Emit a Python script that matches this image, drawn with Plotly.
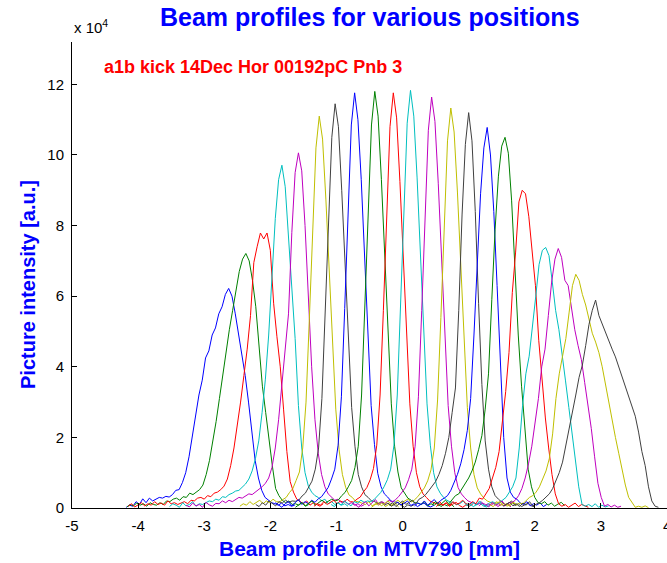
import numpy as np
import plotly.graph_objects as go

# Sampling pitch of the profiles along the screen [mm]
STEP = 0.05

# First sample position [mm] of each profile, in scan order
starts = [-4.18, -4.17, -4.15, -3.525, -3.275, -2.46, -2.22, -1.925, -1.62, -1.34, -1.08,
          -0.76, -0.47, -0.20, 0.18, 0.45, 0.51, 0.965, 1.155, 1.32, 1.52]

# Intensity profiles [x 10^4 a.u.], one list per position
prof_01 = [0.02, 0.08, 0.05, 0.18, 0.10, 0.26, 0.15, 0.28, 0.20, 0.24, 0.30, 0.28, 0.33, 0.31,
           0.38, 0.50, 0.52, 0.72, 1.00, 1.45, 2.00, 2.55, 3.20, 3.62, 4.25, 4.45, 4.90, 5.10,
           5.50, 5.70, 6.05, 6.22, 6.00, 5.50, 4.90, 4.35, 3.75, 3.00, 2.10, 1.35, 0.85, 0.50,
           0.30, 0.22, 0.15, 0.12, 0.08, 0.14, 0.06, 0.10, 0.05, 0.08]
prof_02 = [0.03, 0.10, 0.06, 0.14, 0.08, 0.12, 0.05, 0.15, 0.10,
           0.08, 0.15, 0.10, 0.20, 0.18, 0.25, 0.28, 0.22, 0.32, 0.30, 0.42, 0.38, 0.45, 0.52,
           0.65, 0.95, 1.35, 1.85, 2.45, 3.10, 3.80, 4.45, 5.05, 5.60, 6.15, 6.70, 7.05, 7.21,
           7.00, 6.45, 5.70, 4.60, 3.45, 2.70, 1.90, 1.20, 0.55, 0.35, 0.22, 0.15, 0.20, 0.10,
           0.12, 0.08, 0.15, 0.05, 0.10]
prof_03 = [0.05, 0.12, 0.03, 0.10, 0.15, 0.06, 0.12, 0.08, 0.18, 0.10, 0.14, 0.08, 0.20, 0.12,
           0.15, 0.10, 0.15, 0.18, 0.12, 0.22, 0.20, 0.28, 0.30, 0.25, 0.35, 0.32, 0.42, 0.45,
           0.52, 0.62, 0.82, 1.20, 1.70, 2.30, 3.00, 3.75, 4.50, 5.45, 6.95, 7.40, 7.79, 7.62,
           7.79, 7.30, 5.80, 4.85, 4.00, 2.80, 1.60, 0.75, 0.45, 0.25, 0.18, 0.12, 0.20, 0.08,
           0.15, 0.10, 0.05, 0.12]
prof_04 = [0.04, 0.12, 0.08, 0.02, 0.15, 0.06, 0.10, 0.18, 0.05, 0.12,
           0.10, 0.15, 0.20, 0.18, 0.25, 0.22, 0.32, 0.30, 0.38, 0.42, 0.48, 0.50, 0.58, 0.68,
           0.82, 1.05, 1.40, 1.90, 2.70, 3.65, 4.90, 6.40, 8.20, 9.30, 9.71, 9.10, 7.70, 6.50,
           4.80, 2.90, 1.70, 1.00, 0.62, 0.45, 0.35, 0.30, 0.20, 0.25, 0.12, 0.18, 0.10, 0.15,
           0.08, 0.12, 0.05]
prof_05 = [0.08, 0.03, 0.14, 0.06, 0.10, 0.02, 0.16, 0.09, 0.05, 0.13,
           0.12, 0.20, 0.15, 0.22, 0.18, 0.25, 0.30, 0.28, 0.35, 0.40, 0.38, 0.45, 0.52, 0.60,
           0.70, 0.85, 1.15, 1.70, 2.50, 3.55, 4.50, 5.50, 7.80, 9.50, 10.06, 9.55, 8.00, 5.90,
           4.00, 2.50, 1.55, 0.95, 0.60, 0.40, 0.30, 0.22, 0.25, 0.15, 0.20, 0.10, 0.15, 0.08,
           0.12, 0.05, 0.10]
prof_06 = [0.05, 0.12, 0.08, 0.18, 0.10, 0.15, 0.22, 0.12, 0.20, 0.15, 0.25, 0.18,
           0.17, 0.24, 0.30, 0.44, 0.55, 0.78, 1.02, 1.70, 3.00, 5.35, 8.00, 10.20, 11.10,
           10.45, 8.75, 6.70, 4.50, 2.80, 1.65, 0.95, 0.58, 0.37, 0.30, 0.19, 0.17,
           0.14, 0.10, 0.18, 0.06, 0.12, 0.08, 0.15, 0.04, 0.10, 0.06, 0.12, 0.03]
prof_07 = [0.10, 0.04, 0.15, 0.08, 0.20, 0.12, 0.06, 0.18, 0.14, 0.22, 0.16, 0.20,
           0.19, 0.22, 0.34, 0.42, 0.60, 0.76, 1.10, 1.70, 3.10, 5.50, 8.25, 10.50, 11.45,
           10.80, 9.00, 6.90, 4.70, 2.85, 1.75, 0.95, 0.60, 0.38, 0.30, 0.20, 0.18,
           0.12, 0.18, 0.08, 0.14, 0.05, 0.11, 0.16, 0.07, 0.02, 0.09, 0.05, 0.10]
prof_08 = [0.15, 0.08, 0.02, 0.12, 0.18, 0.06, 0.14, 0.24, 0.10, 0.18, 0.12, 0.22,
           0.16, 0.26, 0.32, 0.47, 0.58, 0.82, 1.10, 1.78, 3.15, 5.65, 8.45, 10.85, 11.76,
           11.00, 9.30, 7.05, 4.85, 2.90, 1.80, 0.98, 0.60, 0.40, 0.31, 0.20, 0.17,
           0.16, 0.09, 0.13, 0.20, 0.07, 0.12, 0.04, 0.10, 0.14, 0.06, 0.03, 0.08]
prof_09 = [0.02, 0.10, 0.16, 0.06, 0.12, 0.20, 0.08, 0.15, 0.22, 0.14, 0.19, 0.25,
           0.20, 0.23, 0.35, 0.44, 0.60, 0.78, 1.15, 1.75, 3.20, 5.65, 8.50, 10.85, 11.80,
           11.10, 9.30, 7.10, 4.80, 2.95, 1.75, 1.02, 0.57, 0.42, 0.28, 0.22, 0.15,
           0.14, 0.10, 0.18, 0.06, 0.12, 0.08, 0.15, 0.04, 0.10, 0.06, 0.12, 0.03]
prof_10 = [0.05, 0.12, 0.08, 0.18, 0.10, 0.15, 0.22, 0.12, 0.20, 0.15, 0.25, 0.18,
           0.17, 0.25, 0.31, 0.46, 0.58, 0.80, 1.12, 1.78, 3.20, 5.60, 8.45, 10.80, 11.76,
           11.05, 9.25, 7.05, 4.85, 2.95, 1.75, 1.00, 0.60, 0.40, 0.30, 0.20, 0.16,
           0.12, 0.18, 0.08, 0.14, 0.05, 0.11, 0.16, 0.07, 0.02, 0.09, 0.05, 0.10]
prof_11 = [0.10, 0.04, 0.15, 0.08, 0.20, 0.12, 0.06, 0.18, 0.14, 0.22, 0.16, 0.20,
           0.18, 0.24, 0.34, 0.44, 0.60, 0.80, 1.10, 1.78, 3.20, 5.70, 8.50, 10.90, 11.83,
           11.10, 9.35, 7.10, 4.85, 2.95, 1.78, 1.00, 0.60, 0.42, 0.30, 0.22, 0.17,
           0.16, 0.09, 0.13, 0.20, 0.07, 0.12, 0.04, 0.10, 0.14, 0.06, 0.03, 0.08]
prof_12 = [0.15, 0.08, 0.02, 0.12, 0.18, 0.06, 0.14, 0.24, 0.10, 0.18, 0.12, 0.22,
           0.17, 0.23, 0.32, 0.45, 0.57, 0.80, 1.10, 1.75, 3.15, 5.60, 8.40, 10.70, 11.64,
           10.95, 9.20, 7.00, 4.75, 2.90, 1.75, 1.00, 0.58, 0.40, 0.29, 0.20, 0.16,
           0.14, 0.10, 0.18, 0.06, 0.12, 0.08, 0.15, 0.04, 0.10, 0.06, 0.12, 0.03]
prof_13 = [0.02, 0.10, 0.16, 0.06, 0.12, 0.20, 0.08, 0.15, 0.22, 0.14, 0.19, 0.25,
           0.17, 0.23, 0.32, 0.43, 0.57, 0.77, 1.08, 1.70, 3.06, 5.40, 8.20, 10.40, 11.33,
           10.65, 8.95, 6.80, 4.65, 2.85, 1.70, 0.95, 0.57, 0.40, 0.28, 0.20, 0.16,
           0.12, 0.18, 0.07, 0.14, 0.05, 0.11, 0.16, 0.08]
prof_14 = [0.08, 0.15, 0.04, 0.12, 0.20, 0.10, 0.16, 0.22, 0.12, 0.25,
           0.30, 0.38, 0.50, 0.62, 0.75, 0.95, 1.20, 1.55, 2.00, 2.70, 3.40, 5.60, 8.30, 10.30,
           11.20, 10.40, 8.40, 5.80, 3.50, 1.90, 1.10, 0.60, 0.35, 0.25,
           0.16, 0.09, 0.13, 0.20, 0.07, 0.12, 0.04, 0.10, 0.14, 0.06, 0.03]
prof_15 = [0.06, 0.14, 0.10, 0.20, 0.08, 0.16, 0.24, 0.12, 0.22, 0.28,
           0.35, 0.50, 0.70, 0.95, 1.25, 1.65, 2.20, 3.10, 4.90, 7.10, 8.90, 10.20, 10.78,
           10.00, 8.40, 6.30, 3.90, 2.00, 0.85, 0.45, 0.30, 0.25,
           0.14, 0.10, 0.18, 0.06, 0.12, 0.08, 0.15, 0.04, 0.10]
prof_16 = [0.10, 0.18, 0.06, 0.15, 0.22, 0.12, 0.25,
           0.35, 0.40, 0.55, 0.70, 0.85, 1.05, 1.30, 1.65, 2.05, 2.80, 3.80, 5.90, 7.90, 9.40,
           10.25, 10.50, 10.05, 8.70, 6.80, 4.90, 3.45, 2.20, 1.10, 0.60, 0.30, 0.15,
           0.12, 0.18, 0.08, 0.14, 0.05, 0.11, 0.16, 0.07]
prof_17 = [0.04, 0.12, 0.08, 0.15, 0.06, 0.18, 0.10, 0.14, 0.22, 0.12,
           0.10, 0.18, 0.12, 0.28, 0.25, 0.40, 0.55, 0.85, 1.15, 1.60, 2.40, 3.30, 4.40, 6.10,
           7.25, 8.67, 9.00, 8.90, 8.25, 7.30, 6.30, 4.75, 3.55, 2.55, 1.70, 0.95, 0.40, 0.12,
           0.05, 0.10, 0.02,
           0.08, 0.14, 0.04, 0.10, 0.06, 0.02]
prof_18 = [0.12, 0.05, 0.16, 0.08, 0.20, 0.10, 0.06, 0.14, 0.18, 0.10,
           0.15, 0.22, 0.30, 0.45, 0.60, 0.85, 1.70, 2.90, 3.80, 4.30, 5.25, 6.00, 6.90, 7.30,
           7.38, 7.15, 6.40, 5.60, 5.05, 4.40, 3.60, 2.85, 2.05, 1.40, 0.60, 0.10, 0.05, 0.10,
           0.04, 0.12, 0.02, 0.08, 0.03, 0.06]
prof_19 = [0.06, 0.14, 0.10, 0.03, 0.16, 0.08, 0.12, 0.20, 0.07, 0.15,
           0.15, 0.22, 0.35, 0.55, 0.85, 1.25, 1.75, 2.40, 3.10, 4.00, 4.50, 5.45, 6.40, 7.05,
           7.35, 7.10, 6.45, 6.30, 5.65, 5.05, 4.60, 4.20, 3.55, 2.90, 2.25, 1.45, 0.70, 0.30,
           0.05, 0.10, 0.03, 0.08, 0.02, 0.05]
prof_20 = [0.10, 0.04, 0.13, 0.18, 0.07, 0.12, 0.05, 0.16, 0.09, 0.14,
           0.12, 0.20, 0.30, 0.35, 0.45, 0.60, 0.80, 1.05, 1.40, 2.10, 3.10, 3.80, 4.30, 4.80,
           5.55, 6.30, 6.62, 6.45, 6.05, 5.75, 5.35, 4.95, 4.70, 4.40, 4.00, 3.50, 2.90, 2.45,
           2.00, 1.55, 1.05, 0.65, 0.30, 0.15, 0.02, 0.05, 0.02, 0.06, 0.01]
prof_21 = [0.05, 0.10, 0.16, 0.06, 0.12, 0.04, 0.14, 0.08, 0.18, 0.06,
           0.10, 0.15, 0.22, 0.30, 0.40, 0.55, 0.75, 1.00, 1.30, 1.75, 2.25, 2.70, 3.20, 3.70,
           4.05, 4.60, 5.20, 5.60, 5.89, 5.45, 5.20, 4.95, 4.75, 4.50, 4.28, 4.00, 3.75, 3.45,
           3.15, 2.85, 2.60, 2.15, 1.60, 1.20, 0.60, 0.20, 0.05, 0.02]

profiles = [prof_01, prof_02, prof_03, prof_04, prof_05, prof_06, prof_07, prof_08, prof_09,
            prof_10, prof_11, prof_12, prof_13, prof_14, prof_15, prof_16, prof_17, prof_18,
            prof_19, prof_20, prof_21]

# Classic line colour order (b, g, r, c, m, y, k)
color_order = ["rgb(0,0,255)", "rgb(0,128,0)", "rgb(255,0,0)", "rgb(0,191,191)",
               "rgb(191,0,191)", "rgb(191,191,0)", "rgb(64,64,64)"]

x_ticks = [-5, -4, -3, -2, -1, 0, 1, 2, 3]
x_tick_text = ["-5", "-4", "-3", "-2", "-1", "0", "1", "2", "3"]
y_ticks = [0, 2, 4, 6, 8, 10, 12]
y_tick_text = ["0", "2", "4", "6", "8", "10", "12"]

FONT = "Liberation Sans, Arial, Helvetica, sans-serif"
BLUE = "rgb(0,0,255)"

fig = go.Figure()
for i, (x0, vals) in enumerate(zip(starts, profiles)):
    xs = x0 + STEP * np.arange(len(vals))
    fig.add_trace(go.Scatter(
        x=xs, y=vals, mode="lines",
        line=dict(color=color_order[i % len(color_order)], width=1),
        showlegend=False, hoverinfo="skip",
    ))

W, H = 667, 563
L, R, T, B = 72, 0, 42, 55
PW, PH = W - L - R, H - T - B

fig.update_layout(
    width=W, height=H,
    margin=dict(l=L, r=R, t=T, b=B, pad=0),
    paper_bgcolor="white", plot_bgcolor="white",
    font=dict(family=FONT, size=14, color="black"),
    xaxis=dict(
        range=[-5, 4], tickvals=x_ticks, ticktext=x_tick_text,
        ticks="inside", ticklen=5, tickcolor="black",
        showline=True, linecolor="black", linewidth=1, mirror=False,
        showgrid=False, zeroline=False, tickfont=dict(size=15, family=FONT),
        ticklabelstandoff=4,
    ),
    yaxis=dict(
        range=[0, 13.2], tickvals=y_ticks, ticktext=y_tick_text,
        ticks="inside", ticklen=5, tickcolor="black",
        showline=True, linecolor="black", linewidth=1, mirror=False,
        showgrid=False, zeroline=False, tickfont=dict(size=15, family=FONT),
        ticklabelstandoff=4,
    ),
    annotations=[
        dict(text="<b>Beam profiles for various positions</b>", xref="paper", yref="paper",
             x=0.5, y=1 + (T - 17) / PH, xanchor="center", yanchor="middle",
             showarrow=False, font=dict(size=25, color=BLUE, family=FONT)),
        dict(text="<b>a1b kick 14Dec Hor 00192pC Pnb 3</b>", xref="x", yref="y",
             x=-4.55, y=12.5, xanchor="left", yanchor="middle", showarrow=False,
             font=dict(size=18, color="red", family=FONT)),
        dict(text="x 10<sup>4</sup>", xref="paper", yref="paper",
             x=0.0, y=1 + (T - 27) / PH, xanchor="left", yanchor="middle",
             showarrow=False, font=dict(size=15, color="black", family=FONT)),
        # last x tick label sits on the right edge of the figure
        dict(text="4", xref="x", yref="paper", x=4, y=-(525 - (H - B)) / PH,
             xanchor="center", yanchor="middle", showarrow=False,
             font=dict(size=15, color="black", family=FONT)),
        dict(text="<b>Beam profile on MTV790 [mm]</b>", xref="paper", yref="paper",
             x=0.5, y=-(548 - (H - B)) / PH, xanchor="center", yanchor="middle",
             showarrow=False, font=dict(size=21, color=BLUE, family=FONT)),
        dict(text="<b>Picture intensity [a.u.]</b>", xref="paper", yref="paper",
             x=-(L - 28) / PW, y=(H - B - 285) / PH, textangle=-90,
             xanchor="center", yanchor="middle", showarrow=False,
             font=dict(size=20, color=BLUE, family=FONT)),
    ],
)

fig.write_html("out.html")
